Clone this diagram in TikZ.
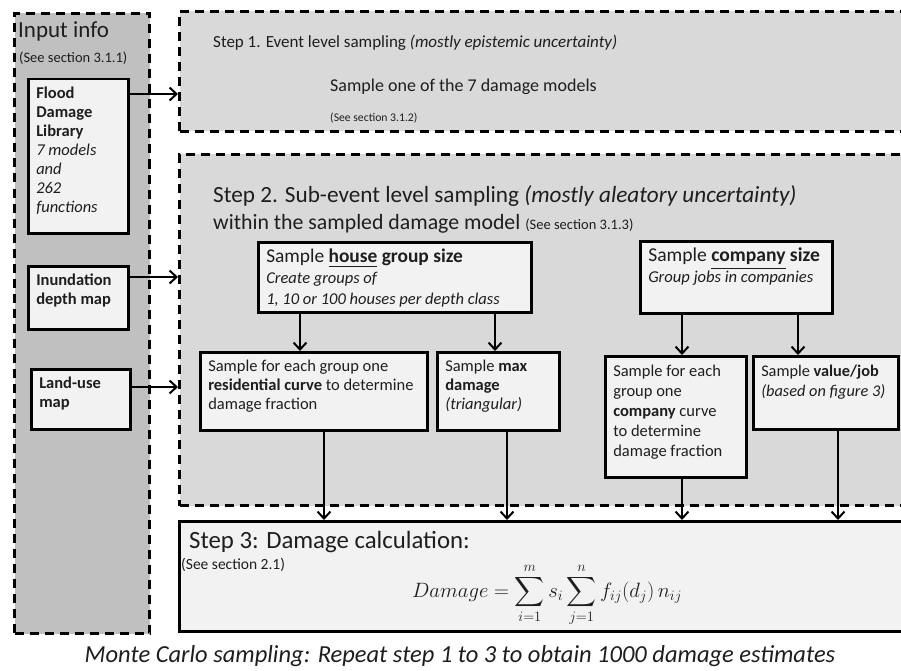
\documentclass[tikz,border=0pt]{standalone}
\usepackage{amsmath}
\usepackage{fontspec}
\setmainfont{Carlito}
\usetikzlibrary{arrows.meta}
\definecolor{inputfill}{RGB}{192,192,192}
\definecolor{stepfill}{RGB}{217,217,217}
\definecolor{boxfill}{RGB}{242,242,242}
\definecolor{txt}{RGB}{30,30,30}
\newcommand\fs[2]{\fontsize{#1}{#2}\selectfont}
\begin{document}
\begin{tikzpicture}[x=1pt,y=-1pt,
 dashbox/.style={draw, line width=3pt, dash pattern=on 9pt off 6pt, inner sep=0pt, anchor=north west},
 stepbox/.style={dashbox, fill=stepfill},
 ibox/.style={draw, line width=2.5pt, fill=boxfill, anchor=north west, inner xsep=8pt, inner ysep=6pt, text=txt},
 solidbox/.style={draw, line width=2.5pt, fill=boxfill, anchor=north west, inner sep=0pt},
 lbl/.style={anchor=base west, inner sep=0pt, text=txt},
 arr/.style={line width=2pt, -{Straight Barb[length=7pt,width=13pt,line width=2pt]}}]
\useasboundingbox (0,0) rectangle (901,671);
\fill[white] (0,0) rectangle (901,671);

% input column
\node[dashbox, fill=inputfill, minimum width=135pt, minimum height=620pt] (input) at (13,12) {};
\node[lbl] (inputt) at (18,38) {\fs{23}{26}Input info};
\node[lbl] (inputs) at (19,63) {\fs{14.5}{17}(See section 3.1.1)};

\node[ibox] (flood) at (27,78) {\parbox[t][142pt][t]{84pt}{\fs{16.5}{19}\strut\textbf{Flood}\\\textbf{Damage}\\\textbf{Library}\\\textit{7 models}\\\textit{and}\\\textit{262}\\\textit{functions}}};
\node[ibox] (inund) at (27,265) {\parbox[t][51pt][t]{84pt}{\fs{16.5}{19}\strut\textbf{Inundation}\\\textbf{depth map}}};
\node[ibox] (land) at (30,368) {\parbox[t][48pt][t]{83pt}{\fs{16.5}{19}\strut\textbf{Land-use}\\\textbf{map}}};

% step 1
\node[stepbox, minimum width=732pt, minimum height=120pt] (step1) at (178,10) {};
\node[lbl] (s1t) at (213,48) {\fs{17}{21}Step 1. Event level sampling \textit{(mostly epistemic uncertainty)}};
\node[lbl] (s1a) at (330,92) {\fs{18}{22}Sample one of the 7 damage models};
\node[lbl] (s1s) at (330,122) {\fs{11.7}{14}(See section 3.1.2)};

% step 2
\node[stepbox, minimum width=732pt, minimum height=351pt] (step2) at (178,153) {};
\node[lbl] (s2t) at (213,202) {\fs{23.2}{26}Step 2. Sub-event level sampling \textit{(mostly aleatory uncertainty)}};
\node[lbl] (s2a) at (213,229) {\fs{21.8}{24}within the sampled damage model {\fs{14.5}{16}(See section 3.1.3)}};

\node[ibox] (house) at (257,241) {\parbox[t][58pt][t]{257pt}{\fs{19.4}{21}\strut Sample \textbf{\underline{house} group size}\\\fs{16.5}{21}\textit{Create groups of}\\\textit{1, 10 or 100 houses per depth class}}};
\node[ibox] (company) at (639,240) {\parbox[t][60pt][t]{176pt}{\fs{19.6}{21}\strut Sample \textbf{\underline{company} size}\\\fs{16.6}{21}\textit{Group jobs in companies}}};

\node[ibox] (resid) at (199,351) {\parbox[t][66pt][t]{211pt}{\fs{16.5}{19}\strut Sample for each group one\\\textbf{residential curve} to determine\\damage fraction}};
\node[ibox] (maxd) at (436,351) {\parbox[t][66pt][t]{106pt}{\fs{16.5}{19}\strut Sample \textbf{max}\\\textbf{damage}\\\textit{(triangular)}}};
\node[ibox] (ccurve) at (604,355) {\parbox[t][109pt][t]{125pt}{\fs{16.5}{20}\strut Sample for each\\group one\\\textbf{company} curve\\to determine\\damage fraction}};
\node[ibox] (value) at (752,355) {\parbox[t][61pt][t]{129pt}{\fs{16.3}{20}\strut Sample \textbf{value/job}\\\textit{(based on figure 3)}}};

% step 3
\node[solidbox, minimum width=732pt, minimum height=110pt] (step3) at (178,520) {};
\node[lbl] (s3t) at (189,548) {\fs{24.8}{28}Step 3: Damage calculation:};
\node[lbl] (s3s) at (181,569) {\fs{15.5}{17}(See section 2.1)};
\node[inner sep=0pt, text=txt] (formula) at (547,595) {\fs{20.5}{24}$\displaystyle Damage = \sum_{i=1}^{m} s_i \sum_{j=1}^{n} f_{ij}(d_j)\,n_{ij}$};

% footer
\node[inner sep=0pt, anchor=base, text=txt] (mc) at (460,662) {\fs{24.5}{28}\textit{Monte Carlo sampling: Repeat step 1 to 3 to obtain 1000 damage estimates}};

% arrows from inputs
\coordinate (a1) at ([yshift=-16pt]flood.north east);
\coordinate (a2) at ([yshift=-12pt]inund.north east);
\coordinate (a3) at ([yshift=-19pt]land.north east);
\draw[arr] (a1) -- (a1 -| step1.west);
\draw[arr] (a2) -- (a2 -| step2.west);
\draw[arr] (a3) -- (a3 -| step2.west);

% arrows inside step 2
\coordinate (h1) at ([xshift=43pt]house.south west);
\coordinate (h2) at ([xshift=238pt]house.south west);
\coordinate (c1) at ([xshift=43pt]company.south west);
\coordinate (c2) at ([xshift=159pt]company.south west);
\draw[arr] (h1) -- (h1 |- resid.north);
\draw[arr] (h2) -- (h2 |- maxd.north);
\draw[arr] (c1) -- (c1 |- ccurve.north);
\draw[arr] (c2) -- (c2 |- value.north);

% arrows into step 3
\coordinate (r1) at ([xshift=125pt]resid.south west);
\coordinate (r2) at ([xshift=71pt]maxd.south west);
\coordinate (r3) at ([xshift=78pt]ccurve.south west);
\coordinate (r4) at ([xshift=86pt]value.south west);
\draw[arr] (r1) -- (r1 |- step3.north);
\draw[arr] (r2) -- (r2 |- step3.north);
\draw[arr] (r3) -- (r3 |- step3.north);
\draw[arr] (r4) -- (r4 |- step3.north);
\end{tikzpicture}
\end{document}
